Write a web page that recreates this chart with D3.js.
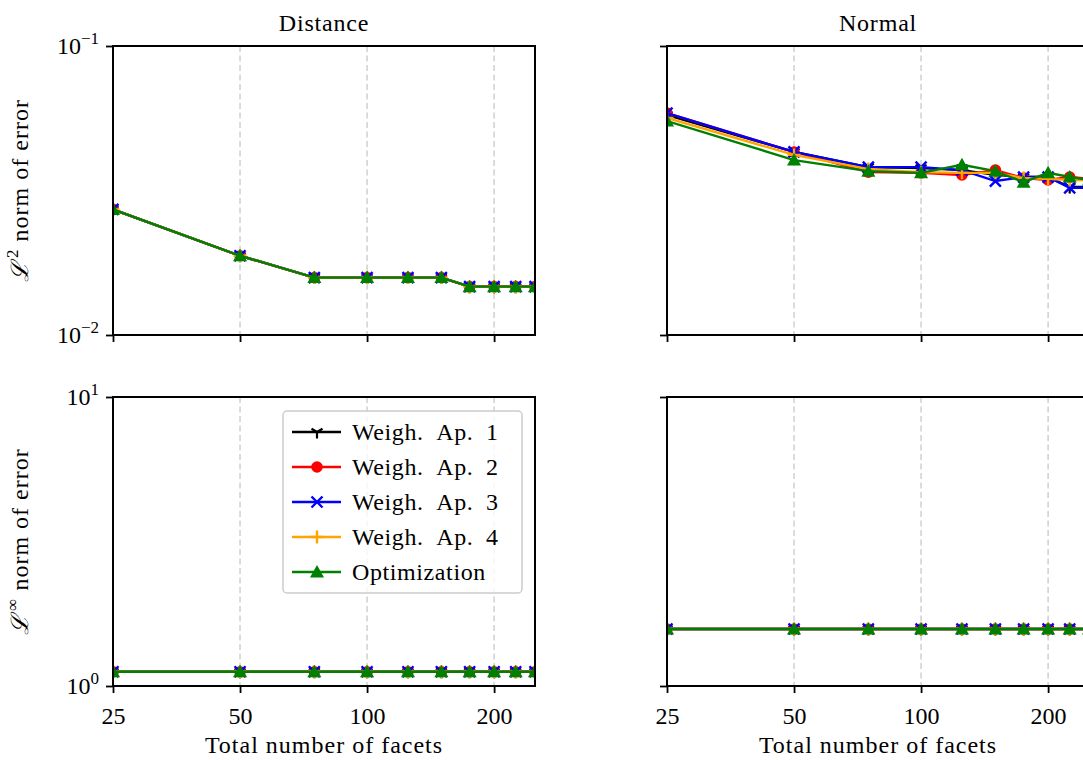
<!DOCTYPE html>
<html>
<head>
<meta charset="utf-8">
<script src="https://cdn.jsdelivr.net/npm/d3@7"></script>
<style>
body { margin: 0; background: #fff; }
svg { display: block; font-family: "Liberation Serif", "DejaVu Serif", serif; }
</style>
</head>
<body>
<div id="chart-area"></div>
<script>
// facets on the x axis
const facets = [25, 50, 75, 100, 125, 150, 175, 200, 225, 250]
const xTicks = [25, 50, 100, 200]
const seriesNames = ["Weigh.\u2002Ap.\u20021", "Weigh.\u2002Ap.\u20022", "Weigh.\u2002Ap.\u20023", "Weigh.\u2002Ap.\u20024", "Optimization"]

// Distance, L2 norm (one row per series)
const distL2 = [
    [0.0272, 0.0188, 0.0158, 0.0158, 0.0158, 0.0158, 0.0147, 0.0147, 0.0147, 0.0147],
    [0.0272, 0.0188, 0.0158, 0.0158, 0.0158, 0.0158, 0.0147, 0.0147, 0.0147, 0.0147],
    [0.0272, 0.0188, 0.0158, 0.0158, 0.0158, 0.0158, 0.0147, 0.0147, 0.0147, 0.0147],
    [0.0272, 0.0188, 0.0158, 0.0158, 0.0158, 0.0158, 0.0147, 0.0147, 0.0147, 0.0147],
    [0.0272, 0.0188, 0.0158, 0.0158, 0.0158, 0.0158, 0.0147, 0.0147, 0.0147, 0.0147]
]
// Normal, L2 norm
const normL2 = [
    [0.0577, 0.0430, 0.0381, 0.0378, 0.0372, 0.0358, 0.0352, 0.0352, 0.0325, 0.0325],
    [0.0586, 0.0430, 0.0366, 0.0364, 0.0358, 0.0372, 0.0349, 0.0344, 0.0352, 0.0347],
    [0.0586, 0.0430, 0.0381, 0.0381, 0.0372, 0.0341, 0.0352, 0.0352, 0.0323, 0.0323],
    [0.0564, 0.0420, 0.0375, 0.0366, 0.0364, 0.0364, 0.0349, 0.0347, 0.0344, 0.0344],
    [0.0550, 0.0403, 0.0369, 0.0364, 0.0388, 0.0369, 0.0338, 0.0364, 0.0352, 0.0344]
]
// Distance, L-infinity norm
const distLinf = [
    [1.12, 1.12, 1.12, 1.12, 1.12, 1.12, 1.12, 1.12, 1.12, 1.12],
    [1.12, 1.12, 1.12, 1.12, 1.12, 1.12, 1.12, 1.12, 1.12, 1.12],
    [1.12, 1.12, 1.12, 1.12, 1.12, 1.12, 1.12, 1.12, 1.12, 1.12],
    [1.12, 1.12, 1.12, 1.12, 1.12, 1.12, 1.12, 1.12, 1.12, 1.12],
    [1.12, 1.12, 1.12, 1.12, 1.12, 1.12, 1.12, 1.12, 1.12, 1.12]
]
// Normal, L-infinity norm
const normLinf = [
    [1.575, 1.575, 1.575, 1.575, 1.575, 1.575, 1.575, 1.575, 1.575, 1.575],
    [1.575, 1.575, 1.575, 1.575, 1.575, 1.575, 1.575, 1.575, 1.575, 1.575],
    [1.575, 1.575, 1.575, 1.575, 1.575, 1.575, 1.575, 1.575, 1.575, 1.575],
    [1.575, 1.575, 1.575, 1.575, 1.575, 1.575, 1.575, 1.575, 1.575, 1.575],
    [1.575, 1.575, 1.575, 1.575, 1.575, 1.575, 1.575, 1.575, 1.575, 1.575]
]

const colors = ["black", "red", "blue", "orange", "green"]
const markers = ["tri", "circle", "x", "plus", "triangle"]

const plotW = 422
const plotH = 289
const colX = [113, 667]
const rowY = [46, 397]
const fs = "24px"

const svg = d3.select("#chart-area").append("svg")
    .attr("width", 1083)
    .attr("height", 760)
    .style("overflow", "hidden")

const x = d3.scaleLog().base(2).domain([25, 250]).range([0, plotW])
const yTop = d3.scaleLog().domain([0.01, 0.1]).range([plotH, 0])
const yBot = d3.scaleLog().domain([1, 10]).range([plotH, 0])

function drawMarker(g, type, color) {
    if (type === "circle") {
        g.append("circle").attr("r", 5.8).attr("fill", color)
    } else if (type === "triangle") {
        g.append("path").attr("d", "M0,-7L7,5.5L-7,5.5Z").attr("fill", color)
    } else if (type === "x") {
        g.append("path").attr("d", "M-5.5,-5.5L5.5,5.5M-5.5,5.5L5.5,-5.5")
            .attr("stroke", color).attr("stroke-width", 2.4).attr("fill", "none")
    } else if (type === "plus") {
        g.append("path").attr("d", "M-6.5,0L6.5,0M0,-6.5L0,6.5")
            .attr("stroke", color).attr("stroke-width", 2.4).attr("fill", "none")
    } else {
        g.append("path").attr("d", "M0,0L0,6.5M0,0L-5.5,-3.2M0,0L5.5,-3.2")
            .attr("stroke", color).attr("stroke-width", 2.2).attr("fill", "none")
    }
}

function supLabel(sel, base, sup) {
    sel.append("tspan").text(base)
    sel.append("tspan").attr("dy", -10).attr("font-size", "17px").text(sup)
}

const panels = [
    {row: 0, col: 0, y: yTop, data: distL2, title: "Distance"},
    {row: 0, col: 1, y: yTop, data: normL2, title: "Normal"},
    {row: 1, col: 0, y: yBot, data: distLinf},
    {row: 1, col: 1, y: yBot, data: normLinf}
]

panels.forEach((p, pi) => {
    const g = svg.append("g")
        .attr("transform", `translate(${colX[p.col]}, ${rowY[p.row]})`)

    const clipId = "clip" + pi
    g.append("clipPath").attr("id", clipId)
        .append("rect").attr("width", plotW).attr("height", plotH)

    // grid
    g.append("g").selectAll("line").data(xTicks).join("line")
        .attr("x1", d => x(d)).attr("x2", d => x(d))
        .attr("y1", 0).attr("y2", plotH)
        .attr("stroke", "#d0d0d0")
        .attr("stroke-width", 1.5)
        .attr("stroke-dasharray", "6,3.5")

    // series
    const line = d3.line()
        .x((d, i) => x(facets[i]))
        .y(d => p.y(d))
    const plot = g.append("g").attr("clip-path", `url(#${clipId})`)
    p.data.forEach((vals, si) => {
        plot.append("path")
            .attr("d", line(vals))
            .attr("fill", "none")
            .attr("stroke", colors[si])
            .attr("stroke-width", 2.4)
        vals.forEach((v, i) => {
            const m = plot.append("g")
                .attr("transform", `translate(${x(facets[i])}, ${p.y(v)})`)
            drawMarker(m, markers[si], colors[si])
        })
    })

    // x axis
    const xAxis = g.append("g")
        .attr("transform", `translate(0, ${plotH})`)
        .call(d3.axisBottom(x).tickValues(xTicks).tickSize(7).tickPadding(14)
            .tickFormat(d => p.row === 1 ? d : ""))
    xAxis.select(".domain").remove()
    xAxis.selectAll(".tick line").attr("stroke-width", 1.8)
    xAxis.selectAll("text").attr("font-size", fs).attr("font-family", "Liberation Serif")

    // y axis
    const yAxis = g.append("g")
        .call(d3.axisLeft(p.y).tickValues(p.y.domain()).tickSize(7).tickFormat(""))
    yAxis.select(".domain").remove()
    yAxis.selectAll(".tick line").attr("stroke-width", 1.8)
    if (p.col === 0) {
        p.y.domain().forEach(v => {
            const e = Math.round(Math.log10(v))
            const t = g.append("text")
                .attr("x", -14)
                .attr("y", p.y(v) + 8)
                .attr("text-anchor", "end")
                .attr("font-size", fs)
            supLabel(t, "10", e < 0 ? "\u2212" + (-e) : String(e))
        })
    }

    // frame
    g.append("rect")
        .attr("width", plotW).attr("height", plotH)
        .attr("fill", "none").attr("stroke", "black").attr("stroke-width", 2)

    if (p.title) {
        g.append("text")
            .attr("x", plotW / 2).attr("y", -15)
            .attr("text-anchor", "middle")
            .attr("font-size", fs)
            .attr("letter-spacing", "0.8px")
            .text(p.title)
    }
    if (p.row === 1) {
        g.append("text")
            .attr("x", plotW / 2).attr("y", plotH + 67)
            .attr("text-anchor", "middle")
            .attr("font-size", fs)
            .attr("letter-spacing", "1px")
            .text("Total number of facets")
    }
    if (p.col === 0) {
        const t = g.append("text")
            .attr("transform", `translate(-85, ${plotH / 2}) rotate(-90)`)
            .attr("text-anchor", "middle")
            .attr("font-size", fs)
            .attr("letter-spacing", "1px")
        t.append("tspan").attr("font-style", "italic").text("\u2112")
        t.append("tspan").attr("dx", 3).attr("dy", -10).attr("font-size", "17px").text(p.row === 0 ? "2" : "\u221e")
        t.append("tspan").attr("dy", 10).text(" norm of error")
    }

    // legend
    if (p.row === 1 && p.col === 0) {
        const lg = g.append("g").attr("transform", "translate(170, 14)")
        lg.append("rect")
            .attr("width", 239).attr("height", 182)
            .attr("rx", 4)
            .attr("fill", "white").attr("fill-opacity", 0.8)
            .attr("stroke", "#cccccc").attr("stroke-width", 1.5)
        seriesNames.forEach((name, si) => {
            const row = lg.append("g").attr("transform", `translate(0, ${21 + si * 35})`)
            row.append("line")
                .attr("x1", 9).attr("x2", 58)
                .attr("stroke", colors[si]).attr("stroke-width", 2.4)
            drawMarker(row.append("g").attr("transform", "translate(34, 0)"), markers[si], colors[si])
            row.append("text")
                .attr("x", 69).attr("y", 8)
                .attr("font-size", fs)
                .attr("letter-spacing", "0.6px")
                .text(name)
        })
    }
})
</script>
</body>
</html>
